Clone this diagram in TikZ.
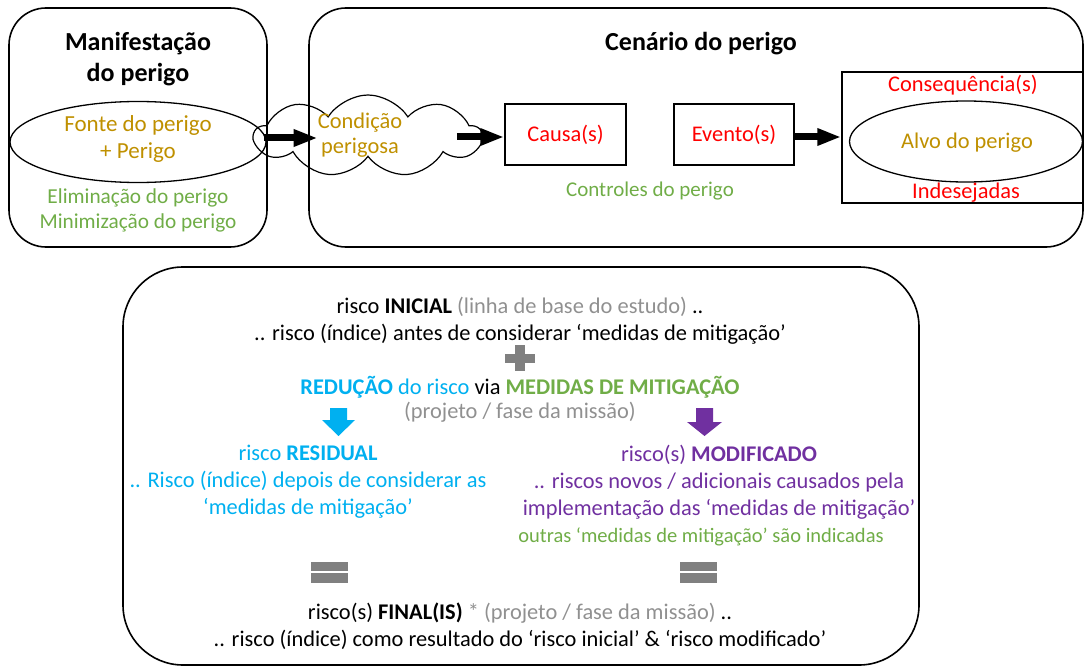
\documentclass[tikz,border=0pt]{standalone}
\usepackage{fontspec}
\setmainfont{Carlito}
\usetikzlibrary{shapes.geometric,shapes.symbols,arrows.meta}
\definecolor{gold}{HTML}{BF9000}
\definecolor{mgreen}{HTML}{70AD47}
\definecolor{mred}{HTML}{FF0000}
\definecolor{mblue}{HTML}{00B0F0}
\definecolor{mpurple}{HTML}{7030A0}
\definecolor{mgray}{HTML}{808080}
\definecolor{tgray}{HTML}{909090}
\begin{document}
\begin{tikzpicture}[x=1pt,y=-1pt,
  frame/.style={draw=black,line width=1.6pt,rounded corners=#1},
  txt/.style={font=\fontsize{22.4}{27}\selectfont,align=center,inner sep=0pt},
  small/.style={font=\fontsize{21.3}{25}\selectfont,align=center,inner sep=0pt},
  title/.style={font=\fontsize{26}{31}\selectfont\bfseries,align=center,inner sep=0pt},
  boxnode/.style={draw=black,line width=1.5pt,inner sep=0pt},
  ell/.style={ellipse,draw=black,line width=1.3pt,inner sep=0pt},
  bigarrow/.style={line width=7pt,-{Triangle[length=24pt,width=16pt]}},
]
\useasboundingbox (0,0) rectangle (1084,666);
% frames
\draw[frame=37pt] (9,8) rectangle (267,247);
\draw[frame=37pt] (309,8) rectangle (1083,247);
\draw[frame=60pt] (123,267) rectangle (919,665);

% top left
\node[title] (man) at (138,59) {Manifestação\\do perigo};
\node[ell,minimum width=256pt,minimum height=81pt] (fonte) at (138,142) {};
\node[txt,text=gold,font=\fontsize{23}{27}\selectfont] (fontetxt) at (138,139) {Fonte do perigo\\+ Perigo};
\node[small,text=mgreen] (elim) at (138,210) {Eliminação do perigo\\Minimização do perigo};

% top right
\node[title] (cen) at (701,44) {Cenário do perigo};
\node[cloud,draw=black,line width=1.2pt,cloud puffs=9,cloud puff arc=115,aspect=2.7,minimum width=227pt,minimum height=82pt,inner sep=0pt] (cloud) at (368,136) {};
\node[txt,text=gold,font=\fontsize{22.4}{25}\selectfont] (cond) at (360,135.5) {Condição\\perigosa};
\node[boxnode,txt,text=mred,minimum width=121pt,minimum height=61pt] (causa) at (565.5,134.5) {Causa(s)};
\node[boxnode,txt,text=mred,minimum width=120pt,minimum height=61pt] (evento) at (734,134.5) {Evento(s)};
\node[small,text=mgreen,font=\fontsize{21}{25}\selectfont] (ctrl) at (650,191) {Controles do perigo};
\node[boxnode,minimum width=241pt,minimum height=131pt] (cons) at (962.5,137.5) {};
\node[ell,minimum width=233pt,minimum height=81pt] (alvo) at (966,141.5) {};
\node[txt,text=gold] (alvotxt) at (967,143) {Alvo do perigo};
\node[txt,text=mred] (conseq) at (963,85) {Consequência(s)};
\node[txt,text=mred] (indes) at (966,193) {Indesejadas};

% thick arrows
\draw[bigarrow] ([xshift=-3pt,yshift=4pt]fonte.east) -- ([yshift=4pt]fonte.east -| cond.west);
\draw[bigarrow] ([xshift=-27pt,yshift=-2.5pt]causa.west -| cloud.east) -- ([yshift=-2.5pt]causa.west);
\draw[bigarrow] ([yshift=-2.5pt]evento.east) -- ([yshift=-2.5pt]evento.east -| cons.west);

% bottom
\node[txt] (ini) at (520,320.5) {risco \textbf{INICIAL} {\color{tgray}(linha de base do estudo)} ..\\.. risco (índice) antes de considerar ‘medidas de mitigação’};
\fill[mgray] (505,353.5) rectangle (535,362.5);
\fill[mgray] (515,345) rectangle (525,371);
\node[txt] (red) at (520,387) {{\color{mblue}\textbf{REDUÇÃO} do risco} via {\color{mgreen}\textbf{MEDIDAS DE MITIGAÇÃO}}};
\node[txt,text=tgray] (proj) at (520,412) {(projeto / fase da missão)};
\fill[mblue] (330,408) -- (347,408) -- (347,420) -- (355,420) -- (338.5,436) -- (322,420) -- (330,420) -- cycle;
\fill[mpurple] (696,408) -- (713,408) -- (713,422) -- (722,422) -- (704.5,436) -- (687,422) -- (696,422) -- cycle;
\node[txt,text=mblue] (resid) at (308,482) {risco \textbf{RESIDUAL}\\.. Risco (índice) depois de considerar as\\‘medidas de mitigação’};
\node[txt,text=mpurple] (modif) at (719,482) {risco(s) \textbf{MODIFICADO}\\.. riscos novos / adicionais causados pela\\implementação das ‘medidas de mitigação’};
\node[txt,text=mgreen,font=\fontsize{20.5}{22}\selectfont] (outras) at (701,537) {outras ‘medidas de mitigação’ são indicadas};
\fill[mgray] (311,562) rectangle (348,571);
\fill[mgray] (311,573) rectangle (348,583);
\fill[mgray] (680,562) rectangle (717,571);
\fill[mgray] (680,573) rectangle (717,583);
\node[txt] (final) at (520,626.5) {risco(s) \textbf{FINAL(IS)} {\color{tgray}* (projeto / fase da missão)} ..\\.. risco (índice) como resultado do ‘risco inicial’ \& ‘risco modificado’};
\end{tikzpicture}
\end{document}
